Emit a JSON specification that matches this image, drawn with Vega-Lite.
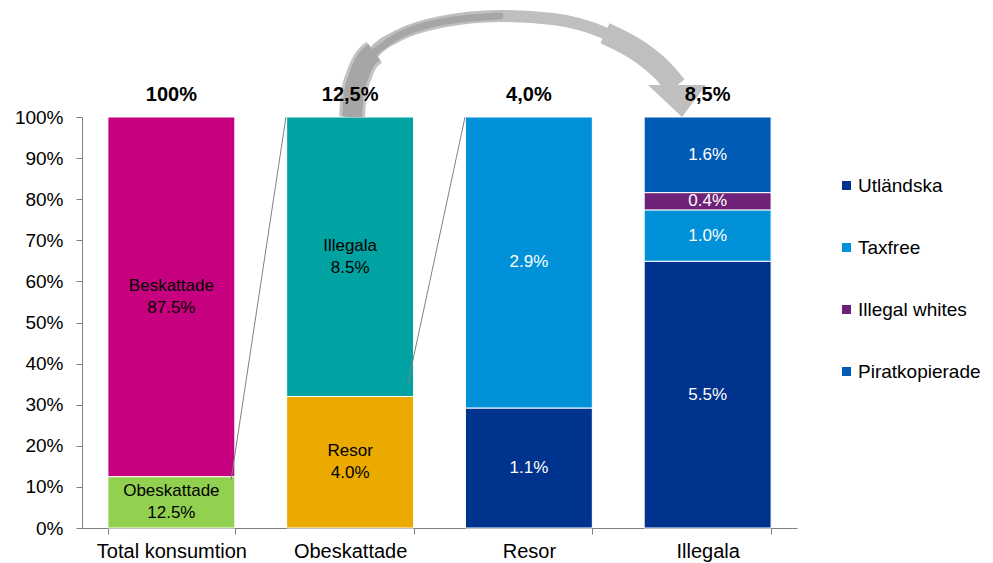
{
  "$schema": "https://vega.github.io/schema/vega-lite/v6.json",
  "width": 715,
  "height": 411,
  "autosize": {"type": "none"},
  "padding": {"left": 82, "top": 117, "right": 196, "bottom": 35},
  "background": "white",
  "config": {
    "font": "Liberation Sans",
    "view": {"stroke": null},
    "axis": {"labelFont": "Liberation Sans", "labelColor": "#000000", "labelFontSize": 19, "domainColor": "#7f7f7f", "tickColor": "#7f7f7f", "grid": false},
    "legend": {"orient": "none", "legendX": 755, "legendY": 59, "padding": 0, "symbolType": "square", "symbolSize": 81, "symbolStrokeWidth": 0, "labelFont": "Liberation Sans", "labelFontSize": 19, "labelColor": "#000000", "rowPadding": 42, "labelOffset": 2}
  },
  "datasets": {
    "bars": [
      {"bar": "Total konsumtion", "seg": "Obeskattade", "share": 12.5, "o": 1, "label": "Obeskattade\n12.5%"},
      {"bar": "Total konsumtion", "seg": "Beskattade", "share": 87.5, "o": 2, "label": "Beskattade\n87.5%"},
      {"bar": "Obeskattade", "seg": "Resor", "share": 32, "o": 1, "label": "Resor\n4.0%"},
      {"bar": "Obeskattade", "seg": "Illegala", "share": 68, "o": 2, "label": "Illegala\n8.5%"},
      {"bar": "Resor", "seg": "Utländska", "share": 29.2, "o": 1, "label": "1.1%"},
      {"bar": "Resor", "seg": "Taxfree", "share": 70.8, "o": 2, "label": "2.9%"},
      {"bar": "Illegala", "seg": "Utländska", "share": 64.9, "o": 1, "label": "5.5%"},
      {"bar": "Illegala", "seg": "Taxfree", "share": 12.5, "o": 2, "label": "1.0%"},
      {"bar": "Illegala", "seg": "Illegal whites", "share": 4.2, "o": 3, "label": "0.4%"},
      {"bar": "Illegala", "seg": "Piratkopierade", "share": 18.4, "o": 4, "label": "1.6%"}
    ],
    "tops": [
      {"bar": "Total konsumtion", "t": "100%"},
      {"bar": "Obeskattade", "t": "12,5%"},
      {"bar": "Resor", "t": "4,0%"},
      {"bar": "Illegala", "t": "8,5%"}
    ],
    "connectors": [
      {"k": 1, "x": 0.834, "y": 11.7},
      {"k": 1, "x": 1.141, "y": 100},
      {"k": 2, "x": 1.824, "y": 35.3},
      {"k": 2, "x": 2.143, "y": 100}
    ],
    "arrow": [
      {"i": 1, "x": 1.511, "y": 100.0},
      {"i": 2, "x": 1.520, "y": 105.4},
      {"i": 3, "x": 1.550, "y": 110.2},
      {"i": 4, "x": 1.635, "y": 115.8},
      {"i": 5, "x": 1.779, "y": 120.0},
      {"i": 6, "x": 2.003, "y": 123.1},
      {"i": 7, "x": 2.338, "y": 124.6},
      {"i": 8, "x": 2.646, "y": 123.8},
      {"i": 9, "x": 2.926, "y": 120.4},
      {"i": 10, "x": 3.122, "y": 115.8},
      {"i": 11, "x": 3.245, "y": 111.4},
      {"i": 12, "x": 3.323, "y": 107.5}
    ],
    "head": [
      {"x": 3.329, "y": 103.9}
    ]
  },
  "layer": [
    {
      "data": {"name": "bars"},
      "layer": [
        {
          "mark": {"type": "bar", "stroke": "white", "strokeWidth": 1},
          "encoding": {
            "x": {"field": "bar", "type": "nominal", "sort": ["Total konsumtion", "Obeskattade", "Resor", "Illegala"], "scale": {"paddingInner": 0.29, "paddingOuter": 0.145}, "axis": {"title": null, "labelAngle": 0, "tickBand": "extent", "tickSize": 6, "labelPadding": 7, "labelFontSize": 20}},
            "y": {"field": "share", "type": "quantitative", "stack": "zero", "scale": {"domain": [0, 100], "nice": false}, "axis": {"title": null, "values": [0, 10, 20, 30, 40, 50, 60, 70, 80, 90, 100], "labelExpr": "datum.value + '%'", "tickSize": 6, "labelPadding": 13}},
            "order": {"field": "o", "type": "quantitative"},
            "color": {"field": "seg", "type": "nominal", "scale": {"domain": ["Obeskattade", "Beskattade", "Resor", "Illegala", "Utländska", "Taxfree", "Illegal whites", "Piratkopierade"], "range": ["#92D050", "#C6007E", "#EAAA00", "#00A3A1", "#00338D", "#0091D9", "#6E2277", "#005BB5"]}, "legend": {"title": null, "values": ["Utländska", "Taxfree", "Illegal whites", "Piratkopierade"]}}
          }
        },
        {
          "transform": [
            {"stack": "share", "groupby": ["bar"], "sort": [{"field": "o"}], "as": ["s0", "s1"]},
            {"calculate": "(datum.s0 + datum.s1) / 2", "as": "mid"},
            {"filter": {"field": "seg", "oneOf": ["Utländska", "Taxfree", "Illegal whites", "Piratkopierade"]}}
          ],
          "mark": {"type": "text", "fontSize": 17, "color": "white", "baseline": "middle"},
          "encoding": {
            "x": {"field": "bar", "type": "nominal", "sort": ["Total konsumtion", "Obeskattade", "Resor", "Illegala"]},
            "y": {"field": "mid", "type": "quantitative", "title": null, "scale": {"domain": [0, 100], "nice": false}},
            "text": {"field": "label"}
          }
        },
        {
          "transform": [
            {"stack": "share", "groupby": ["bar"], "sort": [{"field": "o"}], "as": ["s0", "s1"]},
            {"calculate": "(datum.s0 + datum.s1) / 2", "as": "mid"},
            {"filter": {"field": "seg", "oneOf": ["Obeskattade", "Beskattade", "Resor", "Illegala"]}}
          ],
          "mark": {"type": "text", "fontSize": 17, "color": "black", "baseline": "middle", "lineBreak": "\n", "lineHeight": 22, "dy": -11},
          "encoding": {
            "x": {"field": "bar", "type": "nominal", "sort": ["Total konsumtion", "Obeskattade", "Resor", "Illegala"]},
            "y": {"field": "mid", "type": "quantitative", "title": null, "scale": {"domain": [0, 100], "nice": false}},
            "text": {"field": "label"}
          }
        }
      ]
    },
    {
      "layer": [
        {
          "data": {"name": "connectors"},
          "mark": {"type": "line", "color": "#808080", "strokeWidth": 1},
          "encoding": {
            "x": {"field": "x", "type": "quantitative", "scale": {"domain": [0, 4], "nice": false, "zero": false}, "axis": null},
            "y": {"field": "y", "type": "quantitative", "title": null, "scale": {"domain": [0, 100], "nice": false}},
            "detail": {"field": "k"}
          }
        },
        {
          "data": {"name": "arrow"},
          "mark": {"type": "line", "color": "#BFBFBF", "strokeWidth": 12, "strokeCap": "butt", "interpolate": "monotone"},
          "encoding": {
            "x": {"field": "x", "type": "quantitative", "scale": {"domain": [0, 4], "nice": false, "zero": false}, "axis": null},
            "y": {"field": "y", "type": "quantitative", "title": null, "scale": {"domain": [0, 100], "nice": false}},
            "order": {"field": "i"}
          }
        },
        {
          "data": {"name": "arrow"},
          "transform": [{"filter": "datum.i <= 4"}],
          "mark": {"type": "line", "color": "#C4C4C4", "strokeWidth": 26, "strokeCap": "butt", "interpolate": "monotone"},
          "encoding": {
            "x": {"field": "x", "type": "quantitative", "scale": {"domain": [0, 4], "nice": false, "zero": false}, "axis": null},
            "y": {"field": "y", "type": "quantitative", "title": null, "scale": {"domain": [0, 100], "nice": false}},
            "order": {"field": "i"}
          }
        },
        {
          "data": {"name": "arrow"},
          "transform": [{"filter": "datum.i >= 9"}],
          "mark": {"type": "line", "color": "#BFBFBF", "strokeWidth": 22, "strokeCap": "butt", "interpolate": "monotone"},
          "encoding": {
            "x": {"field": "x", "type": "quantitative", "scale": {"domain": [0, 4], "nice": false, "zero": false}, "axis": null},
            "y": {"field": "y", "type": "quantitative", "title": null, "scale": {"domain": [0, 100], "nice": false}},
            "order": {"field": "i"}
          }
        },
        {
          "data": {"name": "arrow"},
          "transform": [{"filter": "datum.i <= 4"}],
          "mark": {"type": "line", "color": "#A6A6A6", "strokeWidth": 20, "strokeCap": "butt", "interpolate": "monotone"},
          "encoding": {
            "x": {"field": "x", "type": "quantitative", "scale": {"domain": [0, 4], "nice": false, "zero": false}, "axis": null},
            "y": {"field": "y", "type": "quantitative", "title": null, "scale": {"domain": [0, 100], "nice": false}},
            "order": {"field": "i"}
          }
        },
        {
          "data": {"name": "arrow"},
          "transform": [{"filter": "datum.i >= 4 && datum.i <= 7"}],
          "mark": {"type": "line", "color": "#A6A6A6", "strokeWidth": 7, "strokeCap": "round", "interpolate": "monotone"},
          "encoding": {
            "x": {"field": "x", "type": "quantitative", "scale": {"domain": [0, 4], "nice": false, "zero": false}, "axis": null},
            "y": {"field": "y", "type": "quantitative", "title": null, "scale": {"domain": [0, 100], "nice": false}},
            "order": {"field": "i"}
          }
        },
        {
          "data": {"name": "head"},
          "mark": {"type": "point", "filled": true, "color": "#BFBFBF", "opacity": 1, "shape": "M -1 -0.55 L 1 -0.55 L 0.17 0.55 Z", "size": 3364},
          "encoding": {
            "x": {"field": "x", "type": "quantitative", "scale": {"domain": [0, 4], "nice": false, "zero": false}, "axis": null},
            "y": {"field": "y", "type": "quantitative", "title": null, "scale": {"domain": [0, 100], "nice": false}}
          }
        }
      ]
    },
    {
      "data": {"name": "tops"},
      "mark": {"type": "text", "fontSize": 20, "fontWeight": "bold", "color": "black", "baseline": "middle"},
      "encoding": {
        "x": {"field": "bar", "type": "nominal", "sort": ["Total konsumtion", "Obeskattade", "Resor", "Illegala"], "scale": {"paddingInner": 0.29, "paddingOuter": 0.145}, "axis": null},
        "y": {"datum": 105.4, "type": "quantitative", "title": null, "scale": {"domain": [0, 100], "nice": false}},
        "text": {"field": "t"}
      }
    }
  ],
  "resolve": {"scale": {"x": "independent"}, "axis": {"x": "independent"}}
}
